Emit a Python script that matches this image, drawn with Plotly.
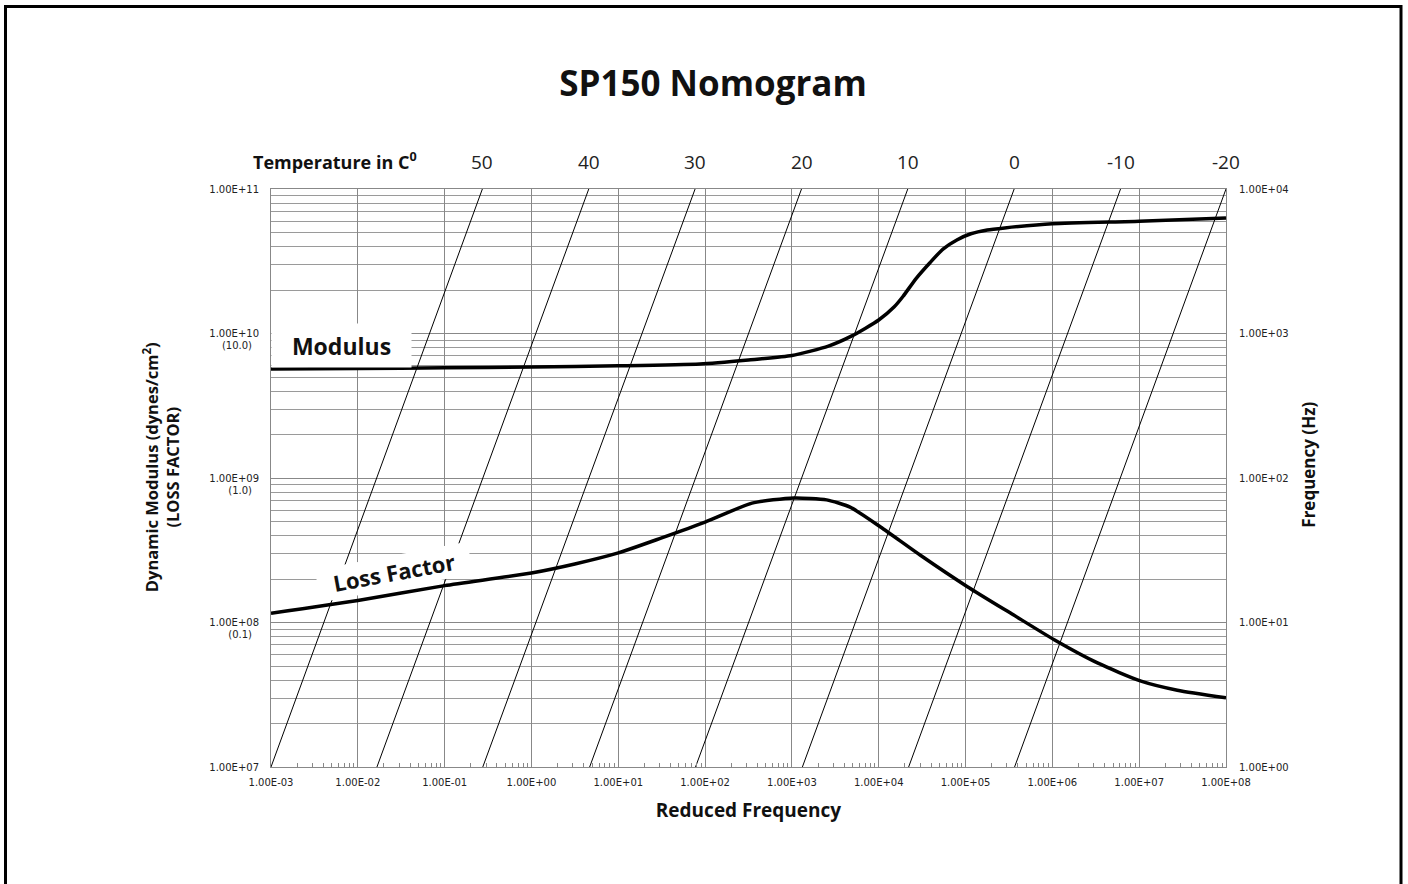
import numpy as np
import plotly.graph_objects as go

# ---------------- data ----------------
temps = [50, 40, 30, 20, 10, 0, -10, -20]
# reduced frequency where each isotherm meets 1 Hz (bottom) and 10 kHz (top)
iso_fr_at_1hz = [1.00e-3, 1.66e-2, 2.75e-1, 4.68e0, 7.76e1, 1.32e3, 2.21e4, 3.67e5]
iso_fr_at_10khz = [2.72e-1, 4.57e0, 7.67e1, 1.29e3, 2.16e4, 3.63e5, 6.10e6, 1.00e8]
iso_freq_ends = [1.0, 1.0e4]

mod_fr = [1e-3, 1e-2, 1e-1, 1e0, 1e1, 8.7e1, 3.16e2, 1e3, 2.63e3, 4.9e3, 1e4,
          1.51e4, 1.91e4, 2.69e4, 3.89e4, 5.5e4, 7.94e4, 1.15e5, 1.78e5, 2.82e5,
          1e6, 1e7, 1e8]
modulus = [5.69e9, 5.73e9, 5.79e9, 5.86e9, 5.97e9, 6.15e9, 6.56e9, 7.05e9, 8.18e9,
           9.62e9, 1.24e10, 1.53e10, 1.81e10, 2.40e10, 3.09e10, 3.84e10, 4.44e10,
           4.90e10, 5.21e10, 5.38e10, 5.74e10, 5.98e10, 6.31e10]

loss_fr = [1e-3, 1e-2, 1e-1, 1e0, 3.16e0, 1e1, 3.16e1, 1e2, 3.47e2, 1.05e3, 2.51e3,
           4.68e3, 1.05e4, 3.02e4, 1.05e5, 3.55e5, 1.05e6, 3.31e6, 1.05e7, 2.75e7, 1e8]
loss_factor = [0.116, 0.142, 0.180, 0.220, 0.254, 0.303, 0.385, 0.495, 0.670, 0.728,
               0.706, 0.628, 0.458, 0.292, 0.177, 0.113, 0.0760, 0.0525, 0.0393,
               0.0340, 0.0301]

x_tick_vals = [1e-3, 1e-2, 1e-1, 1e0, 1e1, 1e2, 1e3, 1e4, 1e5, 1e6, 1e7, 1e8]
x_tick_text = ["1.00E-03", "1.00E-02", "1.00E-01", "1.00E+00", "1.00E+01", "1.00E+02",
               "1.00E+03", "1.00E+04", "1.00E+05", "1.00E+06", "1.00E+07", "1.00E+08"]
y_tick_vals = [1e7, 1e8, 1e9, 1e10, 1e11]
y_tick_text = ["1.00E+07", "1.00E+08", "1.00E+09", "1.00E+10", "1.00E+11"]
loss_tick_vals = [0.1, 1.0, 10.0]
loss_tick_text = ["(0.1)", "(1.0)", "(10.0)"]
y2_tick_vals = [1, 10, 100, 1000, 10000]
y2_tick_text = ["1.00E+00", "1.00E+01", "1.00E+02", "1.00E+03", "1.00E+04"]

# ---------------- figure ----------------
W, H = 1408, 884
L, R, T, B = 271, 182, 189, 117
pw, ph = W - L - R, H - T - B


def px(xp):
    return (xp - L) / pw


def py(yp):
    return (H - B - yp) / ph


GRID = "#888888"
TICKFONT = dict(family="DejaVu Sans", size=10, color="#222222")
SANS = "Open Sans"
NB = "&nbsp;"

fig = go.Figure()

for t, b, tp in zip(temps, iso_fr_at_1hz, iso_fr_at_10khz):
    fig.add_trace(go.Scatter(x=[b, tp], y=iso_freq_ends, yaxis="y2", mode="lines",
                             line=dict(color="black", width=1), name=f"{t} °C",
                             showlegend=False, hoverinfo="skip"))

fig.add_trace(go.Scatter(x=mod_fr, y=modulus, mode="lines", name="Modulus",
                         line=dict(color="black", width=3.5, shape="spline", smoothing=0.6),
                         showlegend=False))
fig.add_trace(go.Scatter(x=loss_fr, y=loss_factor, yaxis="y3", mode="lines",
                         name="Loss Factor",
                         line=dict(color="black", width=3.5, shape="spline", smoothing=0.6),
                         showlegend=False))

minor_x = [k * 10.0 ** e for e in range(-3, 8) for k in range(2, 10)]
minor_y = [k * 10.0 ** e for e in range(7, 11) for k in range(2, 10)]

fig.update_layout(
    width=W, height=H, autosize=False,
    margin=dict(l=L, r=R, t=T, b=B, pad=0),
    paper_bgcolor="white", plot_bgcolor="white",
    title=dict(text="<b>SP150 Nomogram</b>", x=713 / W, xref="container", xanchor="center",
               y=1 - 84 / H, yref="container", yanchor="middle",
               font=dict(family=SANS, size=35, color="#111111")),
    xaxis=dict(type="log", range=[-3, 8], tickmode="array", tickvals=x_tick_vals,
               ticktext=x_tick_text, tickfont=TICKFONT, ticks="", ticklabelstandoff=6,
               showgrid=True, gridcolor=GRID, gridwidth=1,
               showline=True, linecolor=GRID, linewidth=1, mirror=True, zeroline=False,
               minor=dict(tickvals=minor_x, ticks="inside", ticklen=4, tickcolor=GRID,
                          showgrid=False),
               title=dict(text="<b>Reduced Frequency</b>", standoff=16,
                          font=dict(family=SANS, size=19, color="#111111"))),
    yaxis=dict(type="log", range=[7, 11], tickmode="array", tickvals=y_tick_vals,
               ticktext=y_tick_text, tickfont=TICKFONT, ticks="", ticklabelstandoff=9,
               showgrid=True, gridcolor=GRID, gridwidth=1,
               showline=True, linecolor=GRID, linewidth=1, mirror=True, zeroline=False,
               minor=dict(tickvals=minor_y, showgrid=True, gridcolor="#9a9a9a", gridwidth=1,
                          ticks=""),
               title=dict(text=("<b>" + NB * 5 + "Dynamic Modulus (dynes/cm<sup>2</sup>)<br>"
                                + NB * 5 + "(LOSS FACTOR)</b>"),
                          standoff=25, font=dict(family=SANS, size=16.5, color="#111111"))),
    yaxis3=dict(type="log", range=[-2, 2], overlaying="y", side="left", tickmode="array",
                tickvals=loss_tick_vals, ticktext=loss_tick_text, tickfont=TICKFONT,
                ticks="", ticklabelstandoff=18, ticklabelshift=12, showgrid=False,
                showline=False, zeroline=False),
    yaxis2=dict(type="log", range=[0, 4], overlaying="y", side="right", tickmode="array",
                tickvals=y2_tick_vals, ticktext=y2_tick_text, tickfont=TICKFONT, ticks="",
                ticklabelstandoff=12, showgrid=False, showline=False, zeroline=False,
                title=dict(text="<b>" + NB * 6 + "Frequency (Hz)</b>", standoff=15,
                           font=dict(family=SANS, size=17, color="#111111"))),
)

annotations = []
for t, tp in zip(temps, iso_fr_at_10khz):
    annotations.append(dict(x=np.log10(tp), xref="x", y=py(162), yref="paper",
                            text=str(t), showarrow=False, xanchor="center", yanchor="middle",
                            font=dict(family=SANS, size=19, color="#222222")))
annotations.append(dict(x=px(335), xref="paper", y=py(161), yref="paper",
                        text="<b>Temperature in C<sup>0</sup></b>", showarrow=False,
                        xanchor="center", yanchor="middle",
                        font=dict(family=SANS, size=18, color="#111111")))
annotations.append(dict(x=px(341), xref="paper", y=py(345.5), yref="paper",
                        text="<b>Modulus</b>", showarrow=False, xanchor="center",
                        yanchor="middle", width=137, height=41, bgcolor="white",
                        font=dict(family=SANS, size=23, color="#111111")))
annotations.append(dict(x=px(394), xref="paper", y=py(572), yref="paper",
                        text="<b>Loss Factor</b>", showarrow=False, xanchor="center",
                        yanchor="middle", textangle=-10.5, width=152, height=30,
                        bgcolor="white",
                        font=dict(family=SANS, size=22, color="#111111")))
fig.update_layout(annotations=annotations)

fig.add_shape(type="rect", xref="paper", yref="paper",
              x0=px(5.5), x1=px(1401), y0=py(900), y1=py(6.5),
              line=dict(color="black", width=3), fillcolor="rgba(0,0,0,0)", layer="above")

fig.write_html("out.html", config={"displayModeBar": False},
               post_script="document.body.style.margin='0px';document.body.style.padding='0px';")
